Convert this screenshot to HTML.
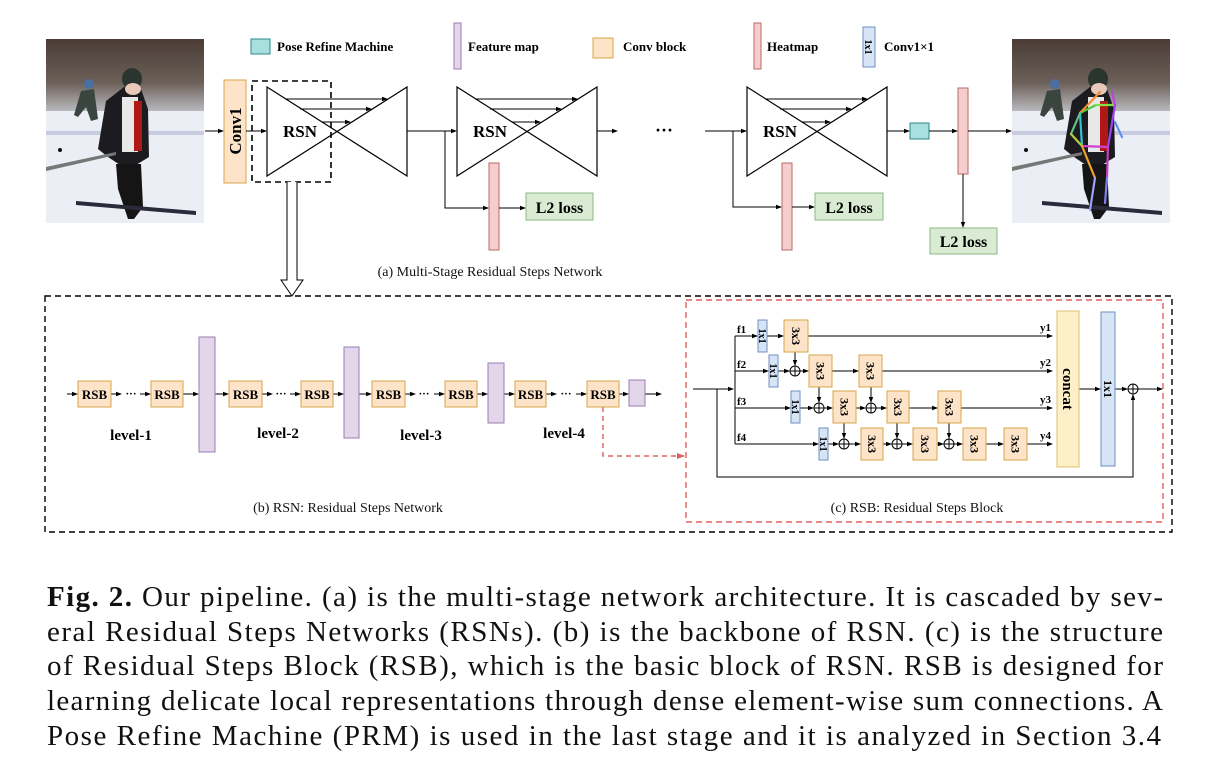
<!DOCTYPE html>
<html><head><meta charset="utf-8"><style>
html,body{margin:0;padding:0;background:#fff;}
svg{display:block;}
.b{font-family:"Liberation Serif",serif;font-weight:bold;fill:#000;}
.r{font-family:"Liberation Serif",serif;fill:#111;}
</style></head><body>
<svg width="1230" height="774" viewBox="0 0 1230 774" xmlns="http://www.w3.org/2000/svg">
<defs>
<marker id="a" markerWidth="6" markerHeight="6" refX="5" refY="3" orient="auto" markerUnits="userSpaceOnUse"><path d="M0,0.8 L6,3 L0,5.2 z" fill="#000"/></marker>
<marker id="ar" markerWidth="8" markerHeight="8" refX="7" refY="4" orient="auto" markerUnits="userSpaceOnUse"><path d="M0,1 L8,4 L0,7 z" fill="#e06060"/></marker>
<linearGradient id="tr" x1="0" y1="0" x2="0" y2="1"><stop offset="0" stop-color="#4b3c36"/><stop offset="0.6" stop-color="#6b5f58"/><stop offset="1" stop-color="#b9b9bd"/></linearGradient>
<g id="photo">
<rect x="0" y="0" width="158" height="184" fill="#eceef5"/>
<rect x="0" y="0" width="158" height="72" fill="url(#tr)"/>
<rect x="0" y="92" width="158" height="4" fill="#c8cce0"/>
<path d="M35,52 L48,50 L52,80 L45,82 L40,68 L32,78 L28,76 z" fill="#3a4540"/>
<circle cx="43" cy="45" r="5" fill="#4a6fa0"/>
<path d="M60,62 L78,48 L95,50 L102,70 L103,118 L90,126 L80,130 L62,118 L52,110 z" fill="#1c1c20"/>
<rect x="76" y="58" width="16" height="55" fill="#e8e8e8"/>
<rect x="88" y="62" width="8" height="50" fill="#b01818"/>
<ellipse cx="86" cy="40" rx="10" ry="11" fill="#2a3530"/>
<ellipse cx="87" cy="50" rx="8" ry="6" fill="#e8c8b8"/>
<path d="M70,125 L95,125 L97,168 L88,180 L82,180 L72,150 z" fill="#151515"/>
<path d="M30,162 L150,172 L150,176 L30,166 z" fill="#2a2a3a"/>
<path d="M0,128 L70,113 L70,116 L0,132 z" fill="#777"/>
<circle cx="14" cy="111" r="2" fill="#111"/>
</g>
<g id="hg">
<path d="M0,0 L140,89 L140,0 L0,89 Z" fill="none" stroke="#000" stroke-width="1.2"/>
<line x1="18" y1="12" x2="120" y2="12" stroke="#000" marker-end="url(#a)"/>
<line x1="33" y1="22" x2="104" y2="22" stroke="#000" marker-end="url(#a)"/>
<line x1="55" y1="35" x2="83" y2="35" stroke="#000" marker-end="url(#a)"/>
<text x="16" y="50" class="b" font-size="17">RSN</text>
</g>
</defs>

<!-- photos -->
<use href="#photo" x="46" y="39"/>
<use href="#photo" x="1012" y="39"/>
<g stroke-width="2.2" fill="none" stroke-linecap="round">
<line x1="1096" y1="105" x2="1080" y2="113" stroke="#4ccc40"/>
<line x1="1096" y1="105" x2="1115" y2="105" stroke="#80e040"/>
<line x1="1080" y1="113" x2="1100" y2="92" stroke="#f09030"/>
<line x1="1115" y1="105" x2="1112" y2="92" stroke="#c040e0"/>
<line x1="1080" y1="113" x2="1082" y2="146" stroke="#30c0d0"/>
<line x1="1080" y1="113" x2="1071" y2="134" stroke="#60c080"/>
<line x1="1071" y1="134" x2="1082" y2="146" stroke="#b0d040"/>
<line x1="1115" y1="105" x2="1108" y2="147" stroke="#a040f0"/>
<line x1="1115" y1="122" x2="1122" y2="137" stroke="#6090f0"/>
<line x1="1082" y1="146" x2="1108" y2="147" stroke="#d040d0"/>
<line x1="1082" y1="146" x2="1095" y2="178" stroke="#f0a030"/>
<line x1="1108" y1="147" x2="1107" y2="178" stroke="#c040c0"/>
<line x1="1095" y1="178" x2="1090" y2="210" stroke="#a0a0ff"/>
<line x1="1107" y1="178" x2="1105" y2="203" stroke="#8080f0"/>
</g>

<!-- legend -->
<rect x="251" y="39" width="19" height="15" fill="#a8e0e0" stroke="#2a8a8a"/>
<text x="277" y="51" class="b" font-size="13">Pose Refine Machine</text>
<rect x="454" y="23" width="7" height="46" fill="#e3d6ea" stroke="#9b7bb0"/>
<text x="468" y="51" class="b" font-size="13">Feature map</text>
<rect x="593" y="38" width="20" height="20" fill="#fde3c8" stroke="#d7a64a"/>
<text x="623" y="51" class="b" font-size="13">Conv block</text>
<rect x="754" y="23" width="7" height="46" fill="#f6cccc" stroke="#b76a6a"/>
<text x="767" y="51" class="b" font-size="13">Heatmap</text>
<rect x="863" y="27" width="12" height="40" fill="#d6e4f6" stroke="#6f8fc0"/>
<text transform="translate(865,47) rotate(90)" text-anchor="middle" class="b" font-size="10">1x1</text>
<text x="884" y="51" class="b" font-size="13">Conv1×1</text>

<!-- top pipeline -->
<line x1="205" y1="131" x2="223" y2="131" stroke="#000" marker-end="url(#a)"/>
<rect x="224" y="80" width="22" height="103" fill="#fde3c8" stroke="#d7a64a"/>
<text transform="translate(241,131) rotate(-90)" text-anchor="middle" class="b" font-size="17">Conv1</text>
<line x1="246" y1="131" x2="266" y2="131" stroke="#000" marker-end="url(#a)"/>
<use href="#hg" x="267" y="87"/>
<rect x="252" y="81" width="79" height="101" fill="none" stroke="#000" stroke-width="1.6" stroke-dasharray="6,4"/>
<path d="M287,182 L287,280 L281,280 L292,296 L303,280 L297,280 L297,182" fill="#fff" stroke="#000"/>
<line x1="407" y1="131" x2="456" y2="131" stroke="#000" marker-end="url(#a)"/>
<use href="#hg" x="457" y="87"/>
<polyline points="445,131 445,208 488,208" fill="none" stroke="#000" marker-end="url(#a)"/>
<rect x="489" y="163" width="10" height="87" fill="#f6cccc" stroke="#b76a6a"/>
<line x1="499" y1="208" x2="525" y2="208" stroke="#000" marker-end="url(#a)"/>
<rect x="526" y="193" width="67" height="27" fill="#d9ecd3" stroke="#8ab883"/>
<text x="559.5" y="213" text-anchor="middle" class="b" font-size="16">L2 loss</text>
<line x1="597" y1="131" x2="617" y2="131" stroke="#000" marker-end="url(#a)"/>
<text x="664" y="136" text-anchor="middle" class="b" font-size="18">···</text>
<line x1="705" y1="131" x2="746" y2="131" stroke="#000" marker-end="url(#a)"/>
<use href="#hg" x="747" y="87"/>
<polyline points="733,131 733,207 781,207" fill="none" stroke="#000" marker-end="url(#a)"/>
<rect x="782" y="163" width="10" height="87" fill="#f6cccc" stroke="#b76a6a"/>
<line x1="792" y1="207" x2="814" y2="207" stroke="#000" marker-end="url(#a)"/>
<rect x="815" y="193" width="68" height="27" fill="#d9ecd3" stroke="#8ab883"/>
<text x="849" y="213" text-anchor="middle" class="b" font-size="16">L2 loss</text>
<line x1="887" y1="131" x2="909" y2="131" stroke="#000" marker-end="url(#a)"/>
<rect x="910" y="123" width="19" height="16" fill="#a8e0e0" stroke="#2a8a8a"/>
<line x1="929" y1="131" x2="957" y2="131" stroke="#000" marker-end="url(#a)"/>
<rect x="958" y="88" width="10" height="86" fill="#f6cccc" stroke="#b76a6a"/>
<line x1="968" y1="131" x2="1011" y2="131" stroke="#000" marker-end="url(#a)"/>
<line x1="963" y1="174" x2="963" y2="227" stroke="#000" marker-end="url(#a)"/>
<rect x="930" y="228" width="67" height="26" fill="#d9ecd3" stroke="#8ab883"/>
<text x="963.5" y="247" text-anchor="middle" class="b" font-size="16">L2 loss</text>
<text x="490" y="276" text-anchor="middle" class="r" font-size="14">(a) Multi-Stage Residual Steps Network</text>

<!-- (b) -->
<rect x="45" y="296" width="1127" height="236" fill="none" stroke="#000" stroke-width="1.4" stroke-dasharray="6,4"/>
<g stroke="#000" fill="none">
<line x1="67" y1="394" x2="77" y2="394" marker-end="url(#a)"/>
<line x1="111" y1="394" x2="121" y2="394" marker-end="url(#a)"/>
<line x1="140" y1="394" x2="150" y2="394" marker-end="url(#a)"/>
<line x1="183" y1="394" x2="198" y2="394" marker-end="url(#a)"/>
<line x1="215" y1="394" x2="228" y2="394" marker-end="url(#a)"/>
<line x1="262" y1="394" x2="272" y2="394" marker-end="url(#a)"/>
<line x1="290" y1="394" x2="300" y2="394" marker-end="url(#a)"/>
<line x1="333" y1="394" x2="343" y2="394" marker-end="url(#a)"/>
<line x1="359" y1="394" x2="371" y2="394" marker-end="url(#a)"/>
<line x1="405" y1="394" x2="415" y2="394" marker-end="url(#a)"/>
<line x1="434" y1="394" x2="444" y2="394" marker-end="url(#a)"/>
<line x1="477" y1="394" x2="487" y2="394" marker-end="url(#a)"/>
<line x1="504" y1="394" x2="514" y2="394" marker-end="url(#a)"/>
<line x1="546" y1="394" x2="556" y2="394" marker-end="url(#a)"/>
<line x1="576" y1="394" x2="586" y2="394" marker-end="url(#a)"/>
<line x1="619" y1="394" x2="628" y2="394" marker-end="url(#a)"/>
<line x1="645" y1="394" x2="661" y2="394" marker-end="url(#a)"/>
</g>
<g fill="#fde3c8" stroke="#d7a64a">
<rect x="78" y="381" width="33" height="26"/><rect x="151" y="381" width="32" height="26"/>
<rect x="229" y="381" width="33" height="26"/><rect x="301" y="381" width="32" height="26"/>
<rect x="372" y="381" width="33" height="26"/><rect x="445" y="381" width="32" height="26"/>
<rect x="515" y="381" width="31" height="26"/><rect x="587" y="381" width="32" height="26"/>
</g>
<g class="b" font-size="13" text-anchor="middle">
<text x="94.5" y="399">RSB</text><text x="167" y="399">RSB</text>
<text x="245.5" y="399">RSB</text><text x="317" y="399">RSB</text>
<text x="388.5" y="399">RSB</text><text x="461" y="399">RSB</text>
<text x="530.5" y="399">RSB</text><text x="603" y="399">RSB</text>
</g>
<g class="b" font-size="11" text-anchor="middle">
<text x="131" y="397">···</text><text x="281" y="397">···</text><text x="424" y="397">···</text><text x="566" y="397">···</text>
</g>
<g fill="#e3d6ea" stroke="#9b7bb0">
<rect x="199" y="337" width="16" height="115"/>
<rect x="344" y="347" width="15" height="91"/>
<rect x="488" y="363" width="16" height="60"/>
<rect x="629" y="380" width="16" height="26"/>
</g>
<g class="b" font-size="15" text-anchor="middle">
<text x="131" y="440">level-1</text><text x="278" y="438">level-2</text>
<text x="421" y="440">level-3</text><text x="564" y="438">level-4</text>
</g>
<polyline points="603,407 603,456 684,456" fill="none" stroke="#e06060" stroke-width="1.4" stroke-dasharray="5,4" marker-end="url(#ar)"/>
<text x="348" y="512" text-anchor="middle" class="r" font-size="14">(b) RSN: Residual Steps Network</text>

<!-- (c) -->
<rect x="686" y="300" width="477" height="222" fill="none" stroke="#e06060" stroke-width="1.4" stroke-dasharray="6,4"/>
<g stroke="#000" fill="none">
<line x1="693" y1="389" x2="733" y2="389" marker-end="url(#a)"/>
<line x1="735" y1="336" x2="735" y2="444"/>
<polyline points="717,389 717,477 1133,477 1133,395" marker-end="url(#a)"/>
<line x1="735" y1="336" x2="757" y2="336" marker-end="url(#a)"/>
<line x1="767" y1="336" x2="783" y2="336" marker-end="url(#a)"/>
<line x1="808" y1="336" x2="1052" y2="336" marker-end="url(#a)"/>
<line x1="735" y1="371" x2="768" y2="371" marker-end="url(#a)"/>
<line x1="778" y1="371" x2="789" y2="371" marker-end="url(#a)"/>
<line x1="800" y1="371" x2="808" y2="371" marker-end="url(#a)"/>
<line x1="832" y1="371" x2="858" y2="371" marker-end="url(#a)"/>
<line x1="882" y1="371" x2="1052" y2="371" marker-end="url(#a)"/>
<line x1="795" y1="352" x2="795" y2="365" marker-end="url(#a)"/>
<line x1="735" y1="408" x2="790" y2="408" marker-end="url(#a)"/>
<line x1="800" y1="408" x2="813" y2="408" marker-end="url(#a)"/>
<line x1="824" y1="408" x2="832" y2="408" marker-end="url(#a)"/>
<line x1="856" y1="408" x2="865" y2="408" marker-end="url(#a)"/>
<line x1="876" y1="408" x2="886" y2="408" marker-end="url(#a)"/>
<line x1="909" y1="408" x2="937" y2="408" marker-end="url(#a)"/>
<line x1="961" y1="408" x2="1052" y2="408" marker-end="url(#a)"/>
<line x1="819" y1="387" x2="819" y2="402" marker-end="url(#a)"/>
<line x1="871" y1="387" x2="871" y2="402" marker-end="url(#a)"/>
<line x1="735" y1="444" x2="818" y2="444" marker-end="url(#a)"/>
<line x1="828" y1="444" x2="838" y2="444" marker-end="url(#a)"/>
<line x1="849" y1="444" x2="860" y2="444" marker-end="url(#a)"/>
<line x1="883" y1="444" x2="891" y2="444" marker-end="url(#a)"/>
<line x1="902" y1="444" x2="912" y2="444" marker-end="url(#a)"/>
<line x1="937" y1="444" x2="943" y2="444" marker-end="url(#a)"/>
<line x1="954" y1="444" x2="962" y2="444" marker-end="url(#a)"/>
<line x1="986" y1="444" x2="1003" y2="444" marker-end="url(#a)"/>
<line x1="1027" y1="444" x2="1052" y2="444" marker-end="url(#a)"/>
<line x1="844" y1="423" x2="844" y2="438" marker-end="url(#a)"/>
<line x1="897" y1="423" x2="897" y2="438" marker-end="url(#a)"/>
<line x1="949" y1="423" x2="949" y2="438" marker-end="url(#a)"/>
<line x1="1079" y1="389" x2="1100" y2="389" marker-end="url(#a)"/>
<line x1="1115" y1="389" x2="1127" y2="389" marker-end="url(#a)"/>
<line x1="1138" y1="389" x2="1162" y2="389" marker-end="url(#a)"/>
</g>
<g fill="#fff" stroke="#000">
<circle cx="795" cy="371" r="5"/><circle cx="819" cy="408" r="5"/><circle cx="871" cy="408" r="5"/>
<circle cx="844" cy="444" r="5"/><circle cx="897" cy="444" r="5"/><circle cx="949" cy="444" r="5"/>
<circle cx="1133" cy="389" r="5"/>
</g>
<g stroke="#000">
<path d="M790,371h10M795,366v10"/><path d="M814,408h10M819,403v10"/><path d="M866,408h10M871,403v10"/>
<path d="M839,444h10M844,439v10"/><path d="M892,444h10M897,439v10"/><path d="M944,444h10M949,439v10"/>
<path d="M1128,389h10M1133,384v10"/>
</g>
<g fill="#d6e4f6" stroke="#6f8fc0">
<rect x="758" y="320" width="9" height="32"/><rect x="769" y="355" width="9" height="32"/>
<rect x="791" y="391" width="9" height="32"/><rect x="819" y="428" width="9" height="32"/>
<rect x="1101" y="312" width="14" height="154"/>
</g>
<g class="b" font-size="10" text-anchor="middle">
<text transform="translate(759,336) rotate(90)">1x1</text>
<text transform="translate(770,371) rotate(90)">1x1</text>
<text transform="translate(792,407) rotate(90)">1x1</text>
<text transform="translate(820,444) rotate(90)">1x1</text>
</g>
<text transform="translate(1104,389) rotate(90)" text-anchor="middle" class="b" font-size="12">1x1</text>
<g fill="#fde3c8" stroke="#d7a64a">
<rect x="784" y="320" width="24" height="32"/>
<rect x="809" y="355" width="23" height="32"/><rect x="859" y="355" width="23" height="32"/>
<rect x="833" y="391" width="23" height="32"/><rect x="887" y="391" width="22" height="32"/><rect x="938" y="391" width="23" height="32"/>
<rect x="861" y="428" width="22" height="32"/><rect x="913" y="428" width="24" height="32"/><rect x="963" y="428" width="23" height="32"/><rect x="1004" y="428" width="23" height="32"/>
</g>
<g class="b" font-size="12" text-anchor="middle">
<text transform="translate(792,336) rotate(90)">3x3</text>
<text transform="translate(816.5,371) rotate(90)">3x3</text>
<text transform="translate(866.5,371) rotate(90)">3x3</text>
<text transform="translate(840.5,407) rotate(90)">3x3</text>
<text transform="translate(894,407) rotate(90)">3x3</text>
<text transform="translate(945.5,407) rotate(90)">3x3</text>
<text transform="translate(868,444) rotate(90)">3x3</text>
<text transform="translate(921,444) rotate(90)">3x3</text>
<text transform="translate(970.5,444) rotate(90)">3x3</text>
<text transform="translate(1011.5,444) rotate(90)">3x3</text>
</g>
<rect x="1057" y="311" width="22" height="156" fill="#fdf0c8" stroke="#e0c070"/>
<text transform="translate(1063,389) rotate(90)" text-anchor="middle" class="b" font-size="15">concat</text>
<g class="b" font-size="11">
<text x="737" y="333">f1</text><text x="737" y="368">f2</text><text x="737" y="405">f3</text><text x="737" y="441">f4</text>
<text x="1040" y="331">y1</text><text x="1040" y="366">y2</text><text x="1040" y="403">y3</text><text x="1040" y="439">y4</text>
</g>
<text x="917" y="512" text-anchor="middle" class="r" font-size="14">(c) RSB: Residual Steps Block</text>

<!-- caption -->
<g class="r" font-size="29" fill="#111">
<text x="47" y="606" textLength="1116" lengthAdjust="spacing"><tspan font-weight="bold">Fig. 2.</tspan> Our pipeline. (a) is the multi-stage network architecture. It is cascaded by sev-</text>
<text x="47" y="641" textLength="1116" lengthAdjust="spacing">eral Residual Steps Networks (RSNs). (b) is the backbone of RSN. (c) is the structure</text>
<text x="47" y="675" textLength="1116" lengthAdjust="spacing">of Residual Steps Block (RSB), which is the basic block of RSN. RSB is designed for</text>
<text x="47" y="710" textLength="1116" lengthAdjust="spacing">learning delicate local representations through dense element-wise sum connections. A</text>
<text x="47" y="745" textLength="1114" lengthAdjust="spacing">Pose Refine Machine (PRM) is used in the last stage and it is analyzed in Section 3.4</text>
</g>
</svg>
</body></html>
